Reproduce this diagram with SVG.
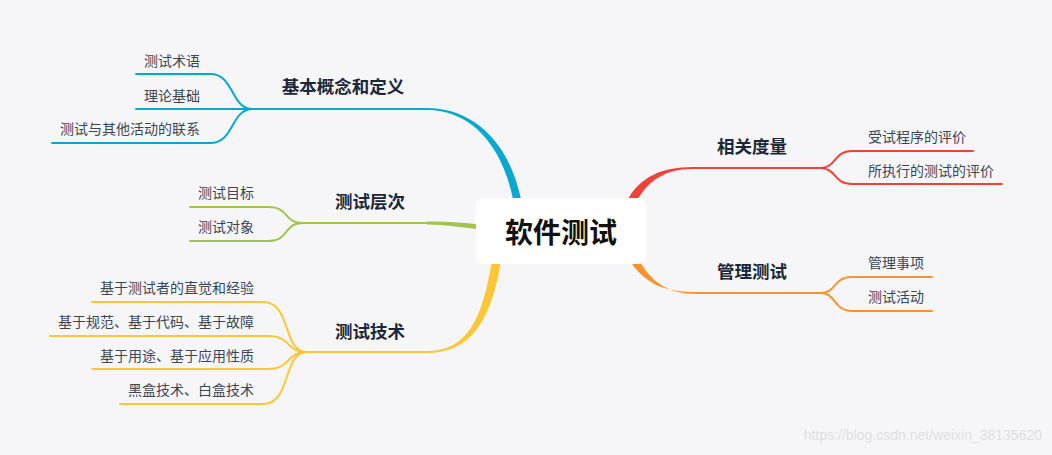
<svg xmlns="http://www.w3.org/2000/svg" width="1052" height="455" viewBox="0 0 1052 455">
<style>
.t{font-family:"Noto Sans CJK SC","Liberation Sans",sans-serif;}
.c{font-size:14px;fill:#3a4656;}
.m{font-size:17.5px;font-weight:bold;fill:#1c2738;text-anchor:middle;}
.ln{fill:none;stroke-width:2;stroke-linecap:round;}
.b{stroke:#0aa8cf;} .g{stroke:#a2c44c;} .y{stroke:#fcc737;} .r{stroke:#ef4238;} .o{stroke:#f7932e;}
</style>
<rect width="1052" height="455" fill="#f6f6f9"/>
<g id="connectors">
  <!-- blue -->
  <path d="M427 108 C470 108 508 138 521 199 L513 199 C501 141 468 110 427 110 Z" fill="#0aa8cf"/>
  <path class="ln b" d="M253 109 H427"/>
  <path class="ln b" d="M210 74 C235 74 230 109 253 109"/>
  <path class="ln b" d="M210 143 C235 143 230 109 253 109"/>
  <!-- green -->
  <path d="M427 221.5 C450 221.5 466 223 484 225 L484 230 C466 228 450 225 427 224.5 Z" fill="#a2c44c"/>
  <path class="ln g" d="M303 223 H427"/>
  <path class="ln g" d="M268 207 C290 207 283 223 303 223"/>
  <path class="ln g" d="M268 241 C290 241 283 223 303 223"/>
  <!-- yellow -->
  <path d="M427 351 C467 351 482 320 492 261 L501 261 C491 322 470 353 427 353 Z" fill="#fcc737"/>
  <path class="ln y" d="M307 352 H427"/>
  <path class="ln y" d="M263 302 C292 302 282 352 307 352"/>
  <path class="ln y" d="M268 336 C292 336 285 352 307 352"/>
  <path class="ln y" d="M268 369 C292 369 285 352 307 352"/>
  <path class="ln y" d="M263 404 C292 404 282 352 307 352"/>
  <!-- red -->
  <path d="M693 167 C660 167 640 178 628 199 L637 201 C647 182 664 169 693 169 Z" fill="#ef4238"/>
  <path class="ln r" d="M693 168 H820"/>
  <path class="ln r" d="M820 168 C837 168 833 151 852 151"/>
  <path class="ln r" d="M820 168 C837 168 833 184 852 184"/>
  <!-- orange -->
  <path d="M697 292 C665 292 645 285 628 258 L637 256 C650 282 668 294 697 294 Z" fill="#f7932e"/>
  <path class="ln o" d="M697 293 H820"/>
  <path class="ln o" d="M820 293 C837 293 833 277 852 277"/>
  <path class="ln o" d="M820 293 C837 293 833 311 852 311"/>
</g>
<g id="center">
  <rect x="476" y="198" width="170" height="66" rx="8" fill="#ffffff"/>
  <text class="t" x="561" y="243" font-size="28" font-weight="bold" fill="#111" text-anchor="middle">软件测试</text>
</g>
<g id="n-jiben"><text class="t m" x="343" y="93">基本概念和定义</text></g>
<g id="n-shuyu"><path class="ln b" d="M136 74 H210"/><text class="t c" x="144" y="66">测试术语</text></g>
<g id="n-lilun"><path class="ln b" d="M136 109 H253"/><text class="t c" x="144" y="101">理论基础</text></g>
<g id="n-lianxi"><path class="ln b" d="M52 143 H210"/><text class="t c" x="60" y="134">测试与其他活动的联系</text></g>
<g id="n-cengci"><text class="t m" x="370" y="208">测试层次</text></g>
<g id="n-mubiao"><path class="ln g" d="M190 207 H268"/><text class="t c" x="198" y="198">测试目标</text></g>
<g id="n-duixiang"><path class="ln g" d="M190 241 H268"/><text class="t c" x="198" y="232">测试对象</text></g>
<g id="n-jishu"><text class="t m" x="370" y="338">测试技术</text></g>
<g id="n-zhijue"><path class="ln y" d="M92 302 H263"/><text class="t c" x="254" y="293" text-anchor="end">基于测试者的直觉和经验</text></g>
<g id="n-guifan"><path class="ln y" d="M50 336 H268"/><text class="t c" x="254" y="327" text-anchor="end">基于规范、基于代码、基于故障</text></g>
<g id="n-yongtu"><path class="ln y" d="M92 369 H268"/><text class="t c" x="254" y="361" text-anchor="end">基于用途、基于应用性质</text></g>
<g id="n-heihe"><path class="ln y" d="M120 404 H263"/><text class="t c" x="254" y="395" text-anchor="end">黑盒技术、白盒技术</text></g>
<g id="n-duliang"><text class="t m" x="752" y="153">相关度量</text></g>
<g id="n-shouce"><path class="ln r" d="M852 151 H973"/><text class="t c" x="868" y="142">受试程序的评价</text></g>
<g id="n-suozhixing"><path class="ln r" d="M852 184 H1002"/><text class="t c" x="868" y="176">所执行的测试的评价</text></g>
<g id="n-guanli"><text class="t m" x="752" y="278">管理测试</text></g>
<g id="n-shixiang"><path class="ln o" d="M852 277 H932"/><text class="t c" x="868" y="268">管理事项</text></g>
<g id="n-huodong"><path class="ln o" d="M852 311 H932"/><text class="t c" x="868" y="302">测试活动</text></g>
<text x="1042" y="440" font-family="Liberation Sans, Arial, sans-serif" font-size="14" fill="#dedee2" text-anchor="end">https://blog.csdn.net/weixin_38135620</text>
</svg>
